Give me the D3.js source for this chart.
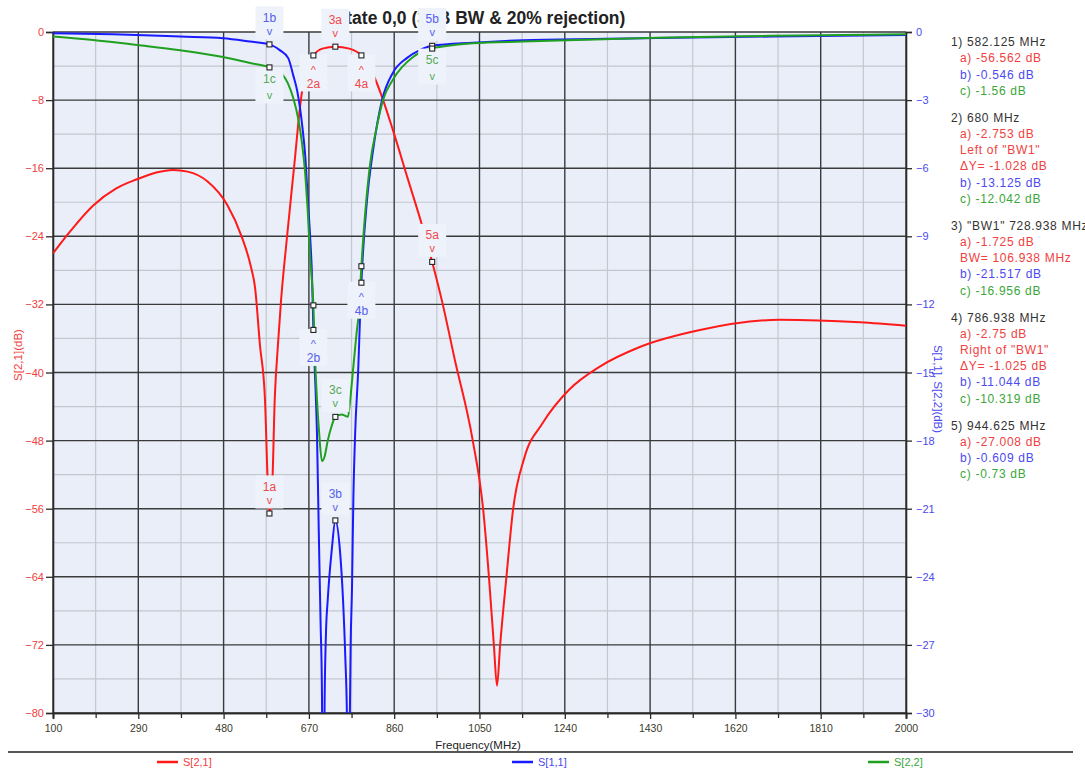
<!DOCTYPE html>
<html><head><meta charset="utf-8">
<script src="https://cdn.jsdelivr.net/npm/d3@7"></script>
<style>
html,body{margin:0;padding:0;background:#fff;}
svg{display:block;font-family:"Liberation Sans",Arial,sans-serif;}
</style></head><body>
<svg id="chart" width="1085" height="768"></svg>
<script>
// Axis ticks
const freqTicks = [100, 290, 480, 670, 860, 1050, 1240, 1430, 1620, 1810, 2000];
const leftTicks = [0, -8, -16, -24, -32, -40, -48, -56, -64, -72, -80];
const rightTicks = [0, -3, -6, -9, -12, -15, -18, -21, -24, -27, -30];

// S[2,1] trace (left axis)
const s21Freq = [100,140,189,240,287,330,367,400,443,488,520,540,550,561,572,579,582.125,588,594,601,608,621,639,650,657,668,680,700,728.938,760,786.938,800,815,830,857,890,922,944.625,966,995,1035,1058,1071,1082,1089,1096,1110,1125,1150,1190,1250,1318,1407,1541,1719,1898,2000];
const s21dB = [-26,-23.3,-20.4,-18.4,-17.3,-16.5,-16.2,-16.4,-17.5,-20.3,-24,-27.4,-30,-36.8,-43,-53.8,-56.562,-53.8,-43,-36.8,-31.5,-24.2,-14.8,-8.9,-6.2,-3.9,-2.753,-1.95,-1.725,-1.95,-2.75,-3.7,-5.2,-7.2,-11.5,-17.2,-22.7,-27.008,-31.5,-38.5,-48,-56,-64,-72,-76.8,-72,-64,-56,-50,-46,-42,-39.3,-37,-35,-33.8,-34.1,-34.5];

// S[1,1] trace (right axis)
const s11Freq = [100,234,383,479,539,582.125,605,624,635,644,655,662,668,673,677,680,683,688,692,696,699,702,705,708,712,721,728.938,739,746,751,755,758,761,763,766,769,773,780,784,786.938,799,813,833,857,888,917,944.625,1035,1147,1334,1445,1700,2000];
const s11dB = [-0.05,-0.1,-0.2,-0.27,-0.42,-0.546,-0.8,-1.15,-1.9,-2.6,-4.1,-5.5,-7.5,-9.1,-10.8,-13.125,-14.8,-17.7,-22,-26,-29,-38,-29.5,-26.5,-25,-22.8,-21.517,-22.8,-25,-27.5,-30.5,-37,-30.5,-27,-24.5,-20.6,-17.7,-14.8,-12.5,-11.044,-7.5,-5.2,-3.0,-1.8,-1.15,-0.8,-0.609,-0.47,-0.36,-0.3,-0.26,-0.2,-0.13];

// S[2,2] trace (right axis)
const s22Freq = [100,189,287,383,479,539,582.125,612,623,635,646,654,662,667,673,680,684,688,693,699,705,712,720,728.938,743,750,757,762,769,776,781,786.938,806,821,835,857,902,944.625,1035,1147,1445,1700,2000];
const s22dB = [-0.2,-0.35,-0.57,-0.8,-1.1,-1.37,-1.56,-1.9,-2.25,-2.9,-3.8,-4.8,-6.3,-7.75,-10,-12.042,-14.5,-16.2,-17.7,-18.9,-18.7,-18,-17.4,-16.956,-16.85,-16.9,-16.95,-16.2,-14.75,-13.3,-12.4,-10.319,-5.86,-4.2,-3.0,-2.1,-1.1,-0.73,-0.5,-0.42,-0.25,-0.17,-0.1];

// Markers
const markerFreq = [582.125, 680, 728.938, 786.938, 944.625];
const markerS21 = [-56.562, -2.753, -1.725, -2.75, -27.008];
const markerS11 = [-0.546, -13.125, -21.517, -11.044, -0.609];
const markerS22 = [-1.56, -12.042, -16.956, -10.319, -0.73];

// Marker readout panel
const panelGroups = [
  [["1) 582.125 MHz","h"],["a) -56.562 dB","a"],["b) -0.546 dB","b"],["c) -1.56 dB","c"]],
  [["2) 680 MHz","h"],["a) -2.753 dB","a"],["Left of \"BW1\"","a"],["\u0394Y= -1.028 dB","a"],["b) -13.125 dB","b"],["c) -12.042 dB","c"]],
  [["3) \"BW1\" 728.938 MHz","h"],["a) -1.725 dB","a"],["BW= 106.938 MHz","a"],["b) -21.517 dB","b"],["c) -16.956 dB","c"]],
  [["4) 786.938 MHz","h"],["a) -2.75 dB","a"],["Right of \"BW1\"","a"],["\u0394Y= -1.025 dB","a"],["b) -11.044 dB","b"],["c) -10.319 dB","c"]],
  [["5) 944.625 MHz","h"],["a) -27.008 dB","a"],["b) -0.609 dB","b"],["c) -0.73 dB","c"]]
];

const titleText = "State 0,0 (3dB BW & 20% rejection)";

// ---------------------------------------------------------------
const svg = d3.select("#chart");
const L = 53, R = 906, T = 32, B = 713;

const x = d3.scaleLinear().domain([100, 2000]).range([L, R]);
const yL = d3.scaleLinear().domain([-80, 0]).range([B, T]);
const yR = d3.scaleLinear().domain([-30, 0]).range([B, T]);

const COL = {
  red: "#ff1a1a", blue: "#1a1aff", green: "#1fa01f",
  redT: "#f04040", blueT: "#4a4af0", greenT: "#3aa63a",
  redL: "#ee4a4a", blueL: "#5560ee", greenL: "#55aa55"
};

svg.append("defs").append("clipPath").attr("id", "plotClip")
  .append("rect").attr("x", L).attr("y", T).attr("width", R - L).attr("height", B - T);

// plot background
svg.append("rect").attr("x", L).attr("y", T).attr("width", R - L).attr("height", B - T)
  .attr("fill", "#e9eef9");

// minor grid
const minorX = d3.range(freqTicks.length - 1).map(i => (freqTicks[i] + freqTicks[i + 1]) / 2);
const minorY = d3.range(leftTicks.length - 1).map(i => (leftTicks[i] + leftTicks[i + 1]) / 2);
const grid = svg.append("g");
grid.selectAll(".mx").data(minorX).join("line")
  .attr("x1", d => x(d)).attr("x2", d => x(d)).attr("y1", T).attr("y2", B)
  .attr("stroke", "#c3c7ce").attr("stroke-width", 1.2);
grid.selectAll(".my").data(minorY).join("line")
  .attr("x1", L).attr("x2", R).attr("y1", d => yL(d)).attr("y2", d => yL(d))
  .attr("stroke", "#c3c7ce").attr("stroke-width", 1.2);
// major grid
grid.selectAll(".Mx").data(freqTicks).join("line")
  .attr("x1", d => x(d)).attr("x2", d => x(d)).attr("y1", T).attr("y2", B)
  .attr("stroke", "#3a3a3a").attr("stroke-width", 1.4);
grid.selectAll(".My").data(leftTicks).join("line")
  .attr("x1", L).attr("x2", R).attr("y1", d => yL(d)).attr("y2", d => yL(d))
  .attr("stroke", "#3a3a3a").attr("stroke-width", 1.4);

// axes
const fmt = d3.format("d");
const axL = svg.append("g").attr("transform", `translate(${L},0)`)
  .call(d3.axisLeft(yL).tickValues(leftTicks).tickFormat(fmt).tickSize(7).tickPadding(2));
const axR = svg.append("g").attr("transform", `translate(${R},0)`)
  .call(d3.axisRight(yR).tickValues(rightTicks).tickFormat(fmt).tickSize(6).tickPadding(4));
const axB = svg.append("g").attr("transform", `translate(0,${B})`)
  .call(d3.axisBottom(x).tickValues(freqTicks).tickFormat(fmt).tickSize(6).tickPadding(6));
const axBm = svg.append("g").attr("transform", `translate(0,${B})`)
  .call(d3.axisBottom(x).tickValues(minorX).tickFormat("").tickSize(5));
[axL, axR, axB, axBm].forEach(g => {
  g.select(".domain").attr("stroke", "#2a2a2a").attr("stroke-width", 1.6);
  g.selectAll(".tick line").attr("stroke", "#2a2a2a").attr("stroke-width", 1.3);
  g.selectAll("text").attr("font-size", 11).attr("font-family", "\"Liberation Sans\",Arial,sans-serif");
});
axL.selectAll("text").attr("fill", COL.redT);
axR.selectAll("text").attr("fill", COL.blueT);
axB.selectAll("text").attr("fill", "#3a3a2a").attr("font-size", 10.5);

// axis titles
svg.append("text").attr("transform", "translate(22,355) rotate(-90)")
  .attr("text-anchor", "middle").attr("font-size", 11.5).attr("fill", COL.redT)
  .text("S[2,1](dB)");
svg.append("text").attr("transform", "translate(934,389) rotate(90)")
  .attr("text-anchor", "middle").attr("font-size", 11.5).attr("fill", COL.blueT)
  .text("S[1,1], S[2,2](dB)");
svg.append("text").attr("x", 478).attr("y", 749)
  .attr("text-anchor", "middle").attr("font-size", 11.5).attr("fill", "#222")
  .text("Frequency(MHz)");

// title (partly hidden behind the marker flags above the plot)
svg.append("text").attr("x", 480).attr("y", 24)
  .attr("text-anchor", "middle").attr("font-size", 17.5).attr("font-weight", "bold").attr("fill", "#222")
  .text(titleText);

// traces
const plot = svg.append("g").attr("clip-path", "url(#plotClip)");
function trace(freqs, vals, yScale, color) {
  const line = d3.line().x(d => x(d[0])).y(d => yScale(d[1])).curve(d3.curveMonotoneX);
  plot.append("path").datum(d3.zip(freqs, vals))
    .attr("d", line).attr("fill", "none").attr("stroke", color)
    .attr("stroke-width", 2).attr("stroke-linejoin", "round");
}
trace(s21Freq, s21dB, yL, COL.red);
trace(s11Freq, s11dB, yR, COL.blue);
trace(s22Freq, s22dB, yR, COL.green);

// marker labels: "up" = label above point, "down" = label below point with ^,
// "downv" = label just below the point with v underneath
const labelMode = {
  a: ["up", "down", "up", "down", "up"],
  b: ["up", "down", "up", "down", "up"],
  c: ["downv", null, "up", null, "downv"]
};
const markerSets = [
  { key: "a", vals: markerS21, y: yL, col: COL.redL },
  { key: "b", vals: markerS11, y: yR, col: COL.blueL },
  { key: "c", vals: markerS22, y: yR, col: COL.greenL }
];
const mk = svg.append("g");
markerSets.forEach(s => {
  s.vals.forEach((v, i) => {
    const px = x(markerFreq[i]), py = s.y(v);
    const mode = labelMode[s.key][i];
    if (mode) {
      let ly, cy, caret;
      if (mode === "up") { ly = py - 27; cy = py - 13; caret = "v"; }
      else if (mode === "down") { cy = py + 10; ly = py + 28; caret = "^"; }
      else { ly = py + 11; cy = py + 28; caret = "v"; }
      const top = Math.min(ly, cy) - 11, bot = Math.max(ly, cy) + 8;
      mk.append("rect").attr("x", px - 14).attr("y", top).attr("width", 28).attr("height", bot - top)
        .attr("fill", "#eef2fa");
      mk.append("text").attr("x", px).attr("y", ly).attr("dy", "0.36em")
        .attr("text-anchor", "middle").attr("font-size", 12).attr("fill", s.col)
        .text((i + 1) + s.key);
      mk.append("text").attr("x", px).attr("y", cy).attr("dy", caret === "^" ? "0.75em" : "0.3em")
        .attr("text-anchor", "middle").attr("font-size", 11).attr("fill", s.col)
        .text(caret);
    }
  });
});
markerSets.forEach(s => {
  s.vals.forEach((v, i) => {
    mk.append("rect").attr("x", x(markerFreq[i]) - 2.5).attr("y", s.y(v) - 2.5)
      .attr("width", 5).attr("height", 5)
      .attr("fill", "#fff").attr("stroke", "#222").attr("stroke-width", 1.1);
  });
});

// readout panel
const panel = svg.append("g").attr("font-size", 12).attr("letter-spacing", "0.7px");
const kindStyle = {
  h: { x: 951, c: "#333" }, a: { x: 960, c: COL.redT }, b: { x: 960, c: COL.blueT }, c: { x: 960, c: COL.greenT }
};
let yy = 42;
panelGroups.forEach((g, gi) => {
  if (gi > 0) yy += 27;
  g.forEach((ln, li) => {
    if (li > 0) yy += 16.2;
    panel.append("text").attr("x", kindStyle[ln[1]].x).attr("y", yy).attr("dy", "0.35em")
      .attr("fill", kindStyle[ln[1]].c).text(ln[0]);
  });
});

// separator and legend
svg.append("line").attr("x1", 8).attr("x2", 1073).attr("y1", 752).attr("y2", 752)
  .attr("stroke", "#555").attr("stroke-width", 2);
const legendItems = [["S[2,1]", COL.red, COL.redT, 157], ["S[1,1]", COL.blue, COL.blueT, 512], ["S[2,2]", COL.green, COL.greenT, 868]];
const lg = svg.append("g");
legendItems.forEach(d => {
  lg.append("line").attr("x1", d[3]).attr("x2", d[3] + 21).attr("y1", 762).attr("y2", 762)
    .attr("stroke", d[1]).attr("stroke-width", 2.5);
  lg.append("text").attr("x", d[3] + 26).attr("y", 762).attr("dy", "0.35em")
    .attr("font-size", 11).attr("fill", d[2]).text(d[0]);
});
</script>
</body></html>
